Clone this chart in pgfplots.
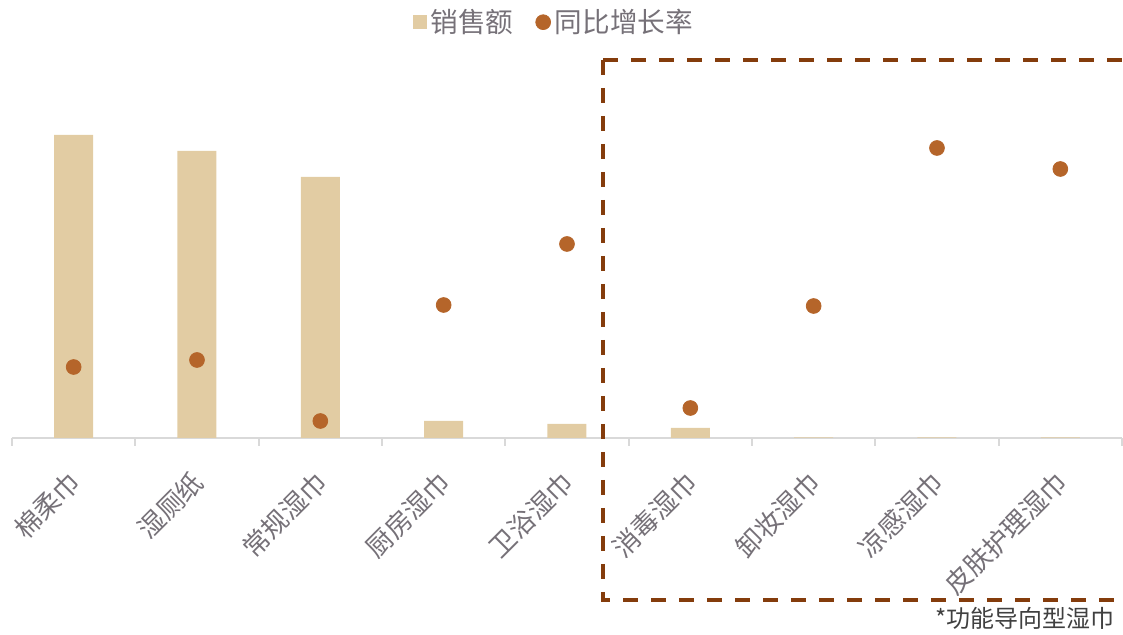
\documentclass[border=0pt]{standalone}
\usepackage{fontspec}
\setmainfont{Noto Sans CJK SC}
\usepackage{pgfplots}
\pgfplotsset{compat=1.18}
\definecolor{barc}{RGB}{226,204,163}
\definecolor{dotc}{RGB}{181,101,42}
\definecolor{boxc}{RGB}{132,60,12}
\definecolor{labc}{RGB}{118,113,120}
\definecolor{axc}{RGB}{217,217,217}
\begin{document}
\begin{tikzpicture}
\useasboundingbox (-6pt,-98.5pt) rectangle (555.5pt,219pt);
\begin{axis}[
  at={(0pt,0pt)}, anchor=south west,
  scale only axis, width=555pt, height=189pt,
  xmin=-0.5, xmax=8.5, ymin=0, ymax=378,
  axis y line=none, axis x line*=bottom,
  axis line style={axc, line width=1pt},
  xtick={0,...,8},
  xticklabels={棉柔巾,湿厕纸,常规湿巾,厨房湿巾,卫浴湿巾,消毒湿巾,卸妆湿巾,凉感湿巾,皮肤护理湿巾},
  major tick length=0pt,
  minor xtick={-0.5,0.5,...,8.5},
  minor tick length=4pt,
  tick align=outside,
  every tick/.style={axc, line width=1pt},
  xticklabel style={rotate=45, anchor=east, inner sep=0pt, font=\fontsize{13.2}{13.2}\selectfont, text=labc, yshift=-14.4pt, xshift=-13.3pt},
  clip=false,
  legend columns=2,
  legend style={draw=none, fill=none, at={(0.489,1.10)}, anchor=center, font=\fontsize{13.8}{13.8}\selectfont, text=labc, /tikz/every even column/.append style={column sep=9pt}},
]
\addplot[ybar, bar width=19.5pt, fill=barc, draw=none,
  legend image code/.code={\fill[barc] (0pt,-3.5pt) rectangle (7pt,3.5pt);}]
  coordinates {(0,303) (1,287) (2,261) (3,17) (4,14) (5,10) (6,0.6) (7,0.6) (8,0.6)};
\addlegendentry{销售额}
\addplot[only marks, mark=*, mark size=3.7pt, color=dotc,
  legend image code/.code={\fill[dotc] (3.7pt,0pt) circle (3.7pt);}]
  coordinates {(0,71) (1,78) (2,17) (3,133) (4,194) (5,30) (6,132) (7,290) (8,269)};
\addlegendentry{同比增长率}
\draw[boxc, line width=1.7pt, dash pattern=on 7.5pt off 6.5pt] (axis cs:4.292,378) -- (axis cs:8.5,378);
\draw[boxc, line width=1.7pt, dash pattern=on 7.5pt off 6.5pt] (axis cs:4.292,378) -- (axis cs:4.292,-162) -- (axis cs:8.5,-162);
\end{axis}
\node[anchor=base east, font=\fontsize{12}{12}\selectfont, text={rgb,255:red,64;green,64;blue,64}, inner sep=0pt] at (551.5pt,-95pt) {*功能导向型湿巾};
\end{tikzpicture}
\end{document}
